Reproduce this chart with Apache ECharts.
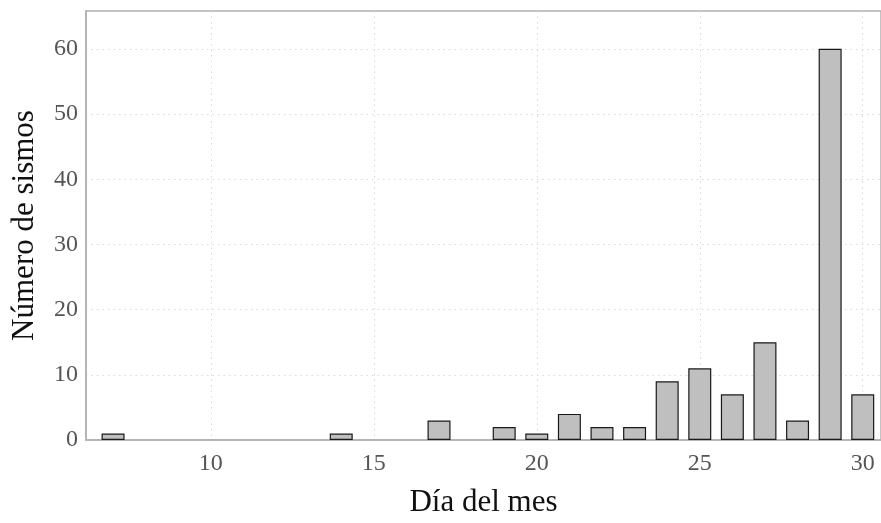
<!DOCTYPE html>
<html><head><meta charset="utf-8">
<script src="https://cdn.jsdelivr.net/npm/echarts@6/dist/echarts.min.js"></script>
<style>html,body{margin:0;padding:0;background:#fff;overflow:hidden}#c{width:881px;height:523px}</style>
</head><body><div id="c"></div>
<script>
const days = [7, 14, 17, 19, 20, 21, 22, 23, 24, 25, 26, 27, 28, 29, 30];
const counts = [1, 1, 3, 2, 1, 4, 2, 2, 9, 11, 7, 15, 3, 60, 7];
const xTicks = [10, 15, 20, 25, 30];
const yTicks = [0, 10, 20, 30, 40, 50, 60];

const chart = echarts.init(document.getElementById('c'));
const font = 'Liberation Serif';
chart.setOption({
  animation: false,
  grid: {left: 86, top: 11, width: 795, height: 436.5, show: true, borderColor: '#b0b0b0', borderWidth: 1.5, backgroundColor: 'transparent'},
  xAxis: {
    type: 'value', min: 6.17, max: 30.56,
    name: 'Día del mes', nameLocation: 'middle', nameGap: 47,
    nameTextStyle: {fontFamily: font, fontSize: 31, color: '#111'},
    axisLine: {show: true, lineStyle: {color: '#b0b0b0', width: 1.5}},
    axisTick: {show: false, customValues: xTicks},
    axisLabel: {fontFamily: font, fontSize: 24, color: '#555', margin: 12, customValues: xTicks},
    splitLine: {show: true, lineStyle: {color: '#dadada', type: [1.5, 4], width: 1}}
  },
  yAxis: {
    type: 'value', min: 0, max: 65.8, interval: 10,
    name: 'Número de sismos', nameLocation: 'middle', nameGap: 46,
    nameTextStyle: {fontFamily: font, fontSize: 31, color: '#111'},
    axisLine: {show: true, lineStyle: {color: '#b0b0b0', width: 1.5}},
    axisTick: {show: false, customValues: yTicks},
    axisLabel: {fontFamily: font, fontSize: 24, color: '#555', margin: 8, customValues: yTicks},
    splitLine: {show: true, lineStyle: {color: '#dadada', type: [1.5, 4], width: 1}}
  },
  series: [{
    type: 'bar',
    data: days.map((d, i) => [d, counts[i]]),
    barWidth: 23,
    itemStyle: {color: '#bfbfbf', borderColor: '#1a1a1a', borderWidth: 1.2},
    z: 1
  }]
});
</script></body></html>
